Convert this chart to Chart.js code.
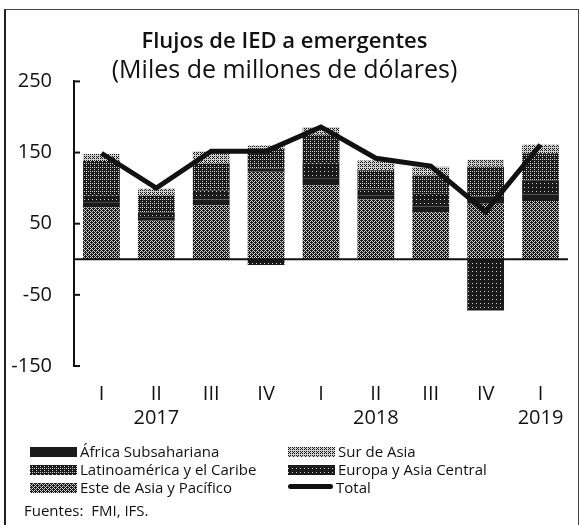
<!DOCTYPE html>
<html>
<head>
<meta charset="utf-8">
<script src="https://cdn.jsdelivr.net/npm/chart.js@4/dist/chart.umd.min.js"></script>
<style>
  html, body { margin: 0; padding: 0; background: #fff; }
  #wrap { position: relative; width: 580px; height: 525px; overflow: hidden; font-family: "Open Sans", sans-serif; color: #111; }
  #frame { position: absolute; left: 4px; top: 9px; width: 572px; height: 520px; border-left: 2px solid #222; border-top: 1px solid #444; border-right: 1px solid #444; }
  #chartBox { position: absolute; left: 0; top: 0; width: 580px; height: 458px; }
  .leg { position: absolute; font-size: 15px; line-height: 18px; white-space: nowrap; }
  .leg .sw { display: inline-block; width: 47px; height: 10px; vertical-align: 0px; margin-right: 3px; }
  .leg .ln { display: inline-block; width: 45px; height: 5px; border-radius: 3px; background: #111; vertical-align: 4px; margin-right: 3px; }
  #source { position: absolute; left: 24px; top: 500px; font-size: 15px; }
</style>
</head>
<body>
<div id="wrap">
  <div id="frame"></div>
  <div id="chartBox"><canvas id="chart" width="580" height="458"></canvas></div>
  <div id="legend"></div>
  <div id="source">Fuentes:&nbsp; FMI, IFS.</div>
</div>
<script>
const quarters = ["I", "II", "III", "IV", "I", "II", "III", "IV", "I"];
const years = ["", "2017", "", "", "", "2018", "", "", "2019"];

// stacked from the bottom up
const esteAsia = [73, 54, 76, 123, 104, 84, 66, 78, 82];
const africa = [7, 5, 8, 5, 10, 6, 8, 10, 9];
const europa = [10, 7, 13, -8, 21, 8, 18, -72, 20];
const latam = [48, 24, 38, 27, 40, 27, 26, 42, 38];
const surAsia = [10, 9, 17, 5, 11, 14, 12, 10, 12];
const total = [149, 100, 152, 152, 186, 142, 131, 67, 161];

const yMin = -150, yMax = 250, yStep = 100;

// ordered dither so the fills look like the printed halftone
function halftone(level) {
  const bayer = [[0, 8, 2, 10], [12, 4, 14, 6], [3, 11, 1, 9], [15, 7, 13, 5]];
  const c = document.createElement("canvas");
  c.width = 4; c.height = 4;
  const g = c.getContext("2d");
  for (let y = 0; y < 4; y++) {
    for (let x = 0; x < 4; x++) {
      g.fillStyle = (bayer[y][x] + 0.5) / 16 < level ? "#1a1a1a" : "#cfcfcf";
      g.fillRect(x, y, 1, 1);
    }
  }
  return g.createPattern(c, "repeat");
}

const fills = {
  este: halftone(0.6),
  africa: halftone(0.97),
  europa: halftone(0.92),
  latam: halftone(0.8),
  sur: halftone(0.3)
};

function barSet(label, data, fill) {
  return {
    type: "bar", label: label, data: data, backgroundColor: fill,
    borderWidth: 0, stack: "regions", order: 1,
    barPercentage: 0.67, categoryPercentage: 1
  };
}

// zero line and the short inward tick marks on the y axis
const axisExtras = {
  id: "axisExtras",
  afterDatasetsDraw(chart) {
    const { ctx, chartArea } = chart;
    const y = chart.scales.y;
    ctx.save();
    ctx.strokeStyle = "#111";
    ctx.lineWidth = 2;
    const y0 = y.getPixelForValue(0);
    ctx.beginPath();
    ctx.moveTo(chartArea.left, y0);
    ctx.lineTo(chartArea.right, y0);
    ctx.stroke();
    y.ticks.forEach(t => {
      const py = y.getPixelForValue(t.value);
      ctx.beginPath();
      ctx.moveTo(chartArea.left, py);
      ctx.lineTo(chartArea.left + 6, py);
      ctx.stroke();
    });
    ctx.restore();
  }
};

const chart = new Chart(document.getElementById("chart"), {
  data: {
    labels: quarters.map((q, i) => [q, years[i]]),
    datasets: [
      barSet("Este de Asia y Pacífico", esteAsia, fills.este),
      barSet("África Subsahariana", africa, fills.africa),
      barSet("Europa y Asia Central", europa, fills.europa),
      barSet("Latinoamérica y el Caribe", latam, fills.latam),
      barSet("Sur de Asia", surAsia, fills.sur),
      {
        type: "line", label: "Total", data: total, stack: "total", order: 0,
        borderColor: "#111", borderWidth: 5, pointRadius: 0, tension: 0,
        borderJoinStyle: "miter", fill: false
      }
    ]
  },
  options: {
    responsive: false,
    animation: false,
    layout: { padding: { left: 0, right: 11, top: 0, bottom: 12 } },
    plugins: {
      legend: { display: false },
      tooltip: { enabled: false },
      title: {
        display: true, text: "Flujos de IED a emergentes", color: "#111",
        font: { family: "Open Sans", size: 22, weight: "600" },
        padding: { top: 29, bottom: 0 }
      },
      subtitle: {
        display: true, text: "(Miles de millones de dólares)", color: "#111",
        font: { family: "Open Sans", size: 25, weight: "normal" },
        padding: { top: 0, bottom: -4 }
      }
    },
    scales: {
      x: {
        stacked: true,
        grid: { display: false, drawTicks: false },
        border: { display: false },
        ticks: { color: "#111", padding: 16, maxRotation: 0, autoSkip: false,
                 font: { family: "Open Sans", size: 20 } }
      },
      y: {
        stacked: true,
        min: yMin, max: yMax,
        afterFit: s => { s.width = 74; },
        grid: { display: true, drawOnChartArea: false, drawTicks: false },
        border: { display: true, color: "#111", width: 2 },
        ticks: { stepSize: yStep, color: "#111", padding: 22,
                 font: { family: "Open Sans", size: 20 } }
      }
    }
  },
  plugins: [axisExtras]
});

// legend in two columns, same order as the original
const legendRows = [
  ["África Subsahariana", "Sur de Asia"],
  ["Latinoamérica y el Caribe", "Europa y Asia Central"],
  ["Este de Asia y Pacífico", "Total"]
];
const colX = [30, 288];
const rowY = [442, 460, 478];
const legendEl = document.getElementById("legend");
legendRows.forEach((row, r) => {
  row.forEach((name, c) => {
    const ds = chart.data.datasets.find(d => d.label === name);
    const item = document.createElement("div");
    item.className = "leg";
    item.style.left = colX[c] + "px";
    item.style.top = rowY[r] + "px";
    const mark = document.createElement("span");
    if (ds.type === "line") {
      mark.className = "ln";
    } else {
      mark.className = "sw";
      const sc = document.createElement("canvas");
      sc.width = 47; sc.height = 10;
      const g = sc.getContext("2d");
      g.fillStyle = ds.backgroundColor;
      g.fillRect(0, 0, 47, 10);
      mark.style.backgroundImage = "url(" + sc.toDataURL() + ")";
    }
    item.appendChild(mark);
    item.appendChild(document.createTextNode(name));
    legendEl.appendChild(item);
  });
});
</script>
</body>
</html>
